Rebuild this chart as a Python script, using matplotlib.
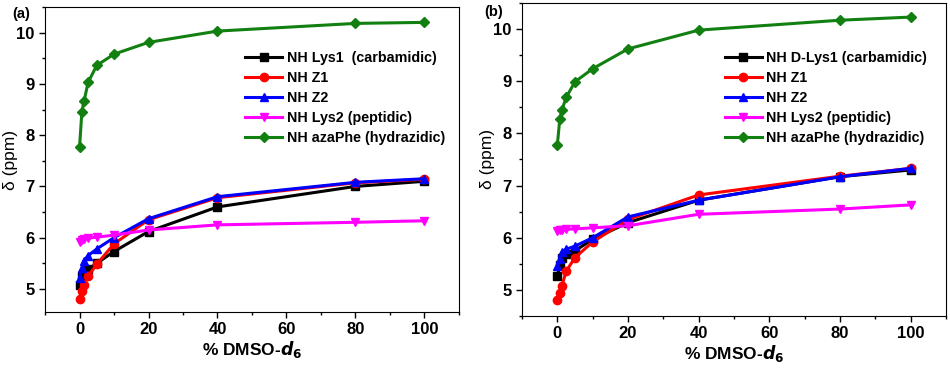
import numpy as np
import matplotlib.pyplot as plt
from matplotlib.ticker import MultipleLocator

plt.rcParams['font.family'] = ['Liberation Sans', 'DejaVu Sans']

# % DMSO-d6 punten
dmso = [0, 0.7, 1.3, 2.5, 5, 10, 20, 40, 80, 100]

# paneel (a)
a_lys1 = [5.07, 5.25, 5.32, 5.38, 5.5, 5.73, 6.12, 6.6, 7.0, 7.1]
a_z1 = [4.8, 4.95, 5.08, 5.25, 5.48, 5.88, 6.35, 6.78, 7.07, 7.14]
a_z2 = [5.22, 5.4, 5.55, 5.65, 5.78, 6.0, 6.37, 6.8, 7.08, 7.15]
a_lys2 = [5.92, 5.95, 5.97, 5.99, 6.01, 6.05, 6.15, 6.25, 6.3, 6.33]
a_aza = [7.76, 8.46, 8.66, 9.03, 9.36, 9.58, 9.81, 10.03, 10.18, 10.2]

# paneel (b)
b_lys1 = [5.26, 5.48, 5.62, 5.68, 5.75, 5.97, 6.29, 6.72, 7.17, 7.3]
b_z1 = [4.81, 4.94, 5.08, 5.36, 5.62, 5.92, 6.35, 6.82, 7.18, 7.33]
b_z2 = [5.45, 5.6, 5.72, 5.78, 5.84, 6.0, 6.4, 6.72, 7.17, 7.33]
b_lys2 = [6.13, 6.14, 6.15, 6.16, 6.17, 6.19, 6.23, 6.45, 6.55, 6.63]
b_aza = [7.78, 8.28, 8.45, 8.69, 8.99, 9.24, 9.62, 9.98, 10.17, 10.23]

labels_a = ["NH Lys1  (carbamidic)", "NH Z1", "NH Z2", "NH Lys2 (peptidic)", "NH azaPhe (hydrazidic)"]
labels_b = ["NH D-Lys1 (carbamidic)", "NH Z1", "NH Z2", "NH Lys2 (peptidic)", "NH azaPhe (hydrazidic)"]

kleuren = ["black", "red", "blue", "magenta", "#118011"]
markers = ["s", "o", "^", "v", "D"]

fig = plt.figure(figsize=(9.5, 3.71), dpi=100)
ax_a = fig.add_axes([45/950, 1-312/371, 414/950, 305/371])
ax_b = fig.add_axes([522/950, 1-316/371, 424/950, 313/371])


def paneel(ax, reeksen, labels, ylim, leg_anchor, ylab_x):
    for y, lab, c, m in zip(reeksen, labels, kleuren, markers):
        ms = 5.2 if m == "D" else 6
        ax.plot(dmso, y, color=c, marker=m, ms=ms, lw=2.2, label=lab)
    ax.set_xlim(-10, 110)
    ax.set_ylim(*ylim)
    ax.xaxis.set_major_locator(MultipleLocator(20))
    ax.xaxis.set_minor_locator(MultipleLocator(10))
    ax.yaxis.set_major_locator(MultipleLocator(1))
    ax.yaxis.set_minor_locator(MultipleLocator(0.5))
    ax.tick_params(which="major", length=4, width=1, labelsize=12)
    ax.tick_params(which="minor", length=2.5, width=1)
    for t in ax.get_xticklabels() + ax.get_yticklabels():
        t.set_fontweight("bold")
    ax.set_xlabel("% DMSO-$\\mathbfit{d}_\\mathbf{6}$", fontsize=12.5, fontweight="bold", labelpad=1)
    ax.set_ylabel("δ (ppm)", fontsize=12.5)
    ax.yaxis.set_label_coords(ylab_x, 0.5)
    leg = ax.legend(loc="upper left", bbox_to_anchor=leg_anchor, frameon=False,
                    prop={"size": 10.3, "weight": "bold"}, handlelength=2.6,
                    handletextpad=0.3, labelspacing=0.42, borderaxespad=0)
    return leg


paneel(ax_a, [a_lys1, a_z1, a_z2, a_lys2, a_aza], labels_a, (4.55, 10.5), (0.47, 0.875), -0.065)
paneel(ax_b, [b_lys1, b_z1, b_z2, b_lys2, b_aza], labels_b, (4.5, 10.5), (0.465, 0.865), -0.063)

fig.text(12/950, 1-14/371, "(a)", fontsize=10.5, fontweight="bold", va="center")
fig.text(484/950, 1-12/371, "(b)", fontsize=10.5, fontweight="bold", va="center")

plt.savefig("out.png", dpi=100)
